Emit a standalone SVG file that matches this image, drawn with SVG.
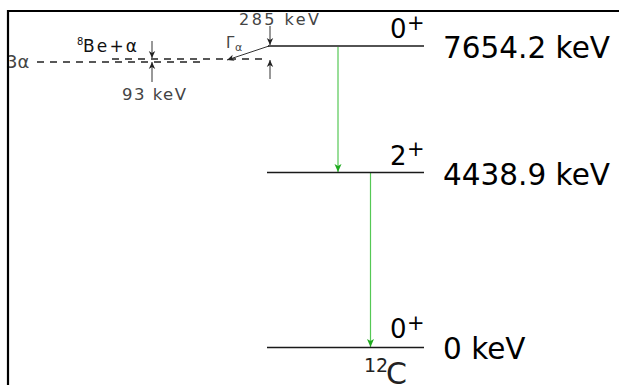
<svg xmlns="http://www.w3.org/2000/svg" width="619" height="385" viewBox="0 0 619 385">
<style>
.lvl{stroke:#1a1a1a;stroke-width:1.5;fill:none}
.dash{stroke:#222;stroke-width:1.3;stroke-dasharray:7 6;fill:none}
.ar{stroke:#333;stroke-width:1;fill:none;marker-end:url(#ab)}
.g{stroke:#55c855;stroke-width:1.2;fill:none;marker-end:url(#ag)}
text{font-family:"DejaVu Sans",sans-serif}
.big{font-size:29.5px;fill:#000}
.spin{fill:#000}
.sm{fill:#444}
</style>
<defs>
<marker id="ab" markerUnits="userSpaceOnUse" viewBox="-8 -4 9 8" refX="0" refY="0" markerWidth="9" markerHeight="8" orient="auto">
<path d="M0,0 L-7,-3.2 L-5,0 L-7,3.2 Z" fill="#222"/>
</marker>
<marker id="ag" markerUnits="userSpaceOnUse" viewBox="-9 -5 10 10" refX="0" refY="0" markerWidth="10" markerHeight="10" orient="auto">
<path d="M0,0 L-8,-3.5 L-6,0 L-8,3.5 Z" fill="#1faa1f"/>
</marker>
</defs>
<g id="texts-left">
<text class="sm" x="6" y="67.5" style="font-size:18px">3α</text>
<text class="sm" x="77" y="45" style="font-size:10px;fill:#111">8</text>
<text class="sm" x="83" y="52" style="font-size:17px;fill:#111" textLength="54">Be+α</text>
<text class="sm" x="122" y="100" style="font-size:16.5px" textLength="64">93 keV</text>
<text class="sm" x="239" y="25" style="font-size:16px" textLength="80">285 keV</text>
<text class="sm" x="226" y="48" style="font-size:15px">Γ</text>
<text class="sm" x="235" y="51" style="font-size:11px">α</text>
</g>
<g id="connectors">
<path class="dash" d="M37,62 H200"/>
<path class="dash" d="M112,59 H266"/>
<path class="ar" d="M152,41 V58"/>
<path class="ar" d="M152,82 V62"/>
<path class="ar" d="M270,26 V45"/>
<path class="ar" d="M270,79 V60"/>
<path class="ar" d="M269,46 L227,60"/>
<path class="g" d="M338,47 V172"/>
<path class="g" d="M370.5,173 V347"/>
</g>
<g id="level-7654">
<path class="lvl" d="M268,46 H424"/>
<text class="spin" x="390" y="38" style="font-size:26px">0</text>
<text class="spin" x="407" y="30" style="font-size:21px">+</text>
<text class="big" x="443" y="58">7654.2 keV</text>
</g>
<g id="level-4438">
<path class="lvl" d="M267,172.5 H424"/>
<text class="spin" x="390" y="165" style="font-size:26px">2</text>
<text class="spin" x="407" y="156" style="font-size:21px">+</text>
<text class="big" x="443" y="185">4438.9 keV</text>
</g>
<g id="level-0">
<path class="lvl" d="M267,347.5 H424"/>
<text class="spin" x="390" y="338" style="font-size:26px">0</text>
<text class="spin" x="407" y="330" style="font-size:21px">+</text>
<text class="big" x="443" y="359">0 keV</text>
<text class="spin" x="364" y="372" style="font-size:19px;fill:#222">12</text>
<text class="spin" x="386" y="384" style="font-size:30px;fill:#222">C</text>
</g>
<path d="M8,385 V11 H619" fill="none" stroke="#000" stroke-width="2.2"/>
</svg>
